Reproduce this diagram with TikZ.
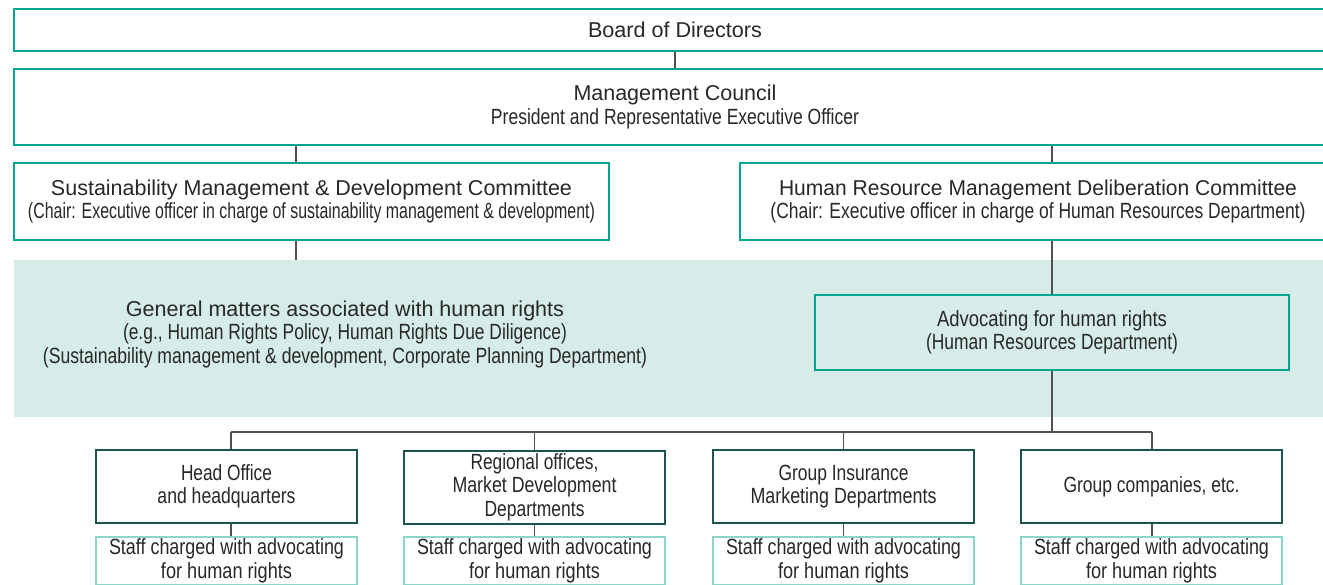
\documentclass[tikz,border=0pt]{standalone}
\usepackage{fontspec}
\setmainfont{Liberation Sans}
\usepackage{graphicx}
\definecolor{tealline}{RGB}{0,166,143}
\definecolor{bandfill}{RGB}{214,236,232}
\definecolor{darkteal}{RGB}{28,84,78}
\definecolor{lightteal}{RGB}{140,214,200}
\definecolor{ink}{RGB}{40,40,40}
\definecolor{connline}{RGB}{80,80,80}
% set a line of text to a given width, keeping its height
\newcommand\fw[2]{\resizebox{#1pt}{\height}{#2}}
\newcommand\titlesz{\fontsize{21.5}{24}\selectfont}
\newcommand\condsz{\fontsize{22}{23.5}\selectfont}
\tikzset{
  textstyle/.style={align=center, text=ink, inner sep=0pt, font=\condsz},
  tealbox/.style={textstyle, draw=tealline, line width=2.4pt, fill=white},
  unitbox/.style={textstyle, draw=darkteal, line width=2pt, fill=white,
    minimum width=261pt, minimum height=73pt},
  staffbox/.style={textstyle, draw=lightteal, line width=2pt, fill=white,
    minimum width=261pt, minimum height=48pt},
  conn/.style={draw=connline, line width=1.4pt},
}
\begin{document}
\begin{tikzpicture}[x=1pt,y=-1pt]
\useasboundingbox (0,0) rectangle (1323,585);

% shaded band for the working level
\node[fill=bandfill, inner sep=0pt, minimum width=1322pt, minimum height=157pt] (band) at (675,338.5) {};

% governance boxes
\node[tealbox, minimum width=1322pt, minimum height=42pt] (bod) at (675,30)
  {\titlesz\fw{174}{Board of Directors}};
\node[tealbox, minimum width=1322pt, minimum height=76pt] (mc) at (675,107)
  {\titlesz\fw{203}{Management Council}\\
   \fw{368}{President and Representative Executive Officer}};
\node[tealbox, minimum width=595pt, minimum height=77pt] (sust) at (311.5,201.5)
  {\titlesz\fw{521}{Sustainability Management \& Development Committee}\\
   \fw{567}{(Chair: Executive officer in charge of sustainability management \& development)}};
\node[tealbox, minimum width=596pt, minimum height=77pt] (hr) at (1038,201.5)
  {\titlesz\fw{518}{Human Resource Management Deliberation Committee}\\
   \fw{535}{(Chair: Executive officer in charge of Human Resources Department)}};

% contents of the band
\node[textstyle] (gm) at (345,334)
  {\titlesz\fw{438}{General matters associated with human rights}\\
   \fw{444}{(e.g., Human Rights Policy, Human Rights Due Diligence)}\\
   \fw{604}{(Sustainability management \& development, Corporate Planning Department)}};
\node[tealbox, fill=bandfill, minimum width=474pt, minimum height=75pt] (adv) at (1052,332.5)
  {\fw{230}{Advocating for human rights}\\
   \fw{252}{(Human Resources Department)}};

% organisational units
\node[unitbox] (u1) at (226.5,486.5)
  {\fw{91}{Head Office}\\\fw{138}{and headquarters}};
\node[unitbox] (u2) at (534.5,487)
  {\fw{128}{Regional offices,}\\\fw{164}{Market Development}\\\fw{100}{Departments}};
\node[unitbox] (u3) at (843.5,486.5)
  {\fw{130}{Group Insurance}\\\fw{186}{Marketing Departments}};
\node[unitbox] (u4) at (1151.5,486.5)
  {\fw{176}{Group companies, etc.}};

% staff under each unit
\node[staffbox] (s1) at (226.5,561)
  {\fw{235}{Staff charged with advocating}\\\fw{131}{for human rights}};
\node[staffbox] (s2) at (534.5,561)
  {\fw{235}{Staff charged with advocating}\\\fw{131}{for human rights}};
\node[staffbox] (s3) at (843.5,561)
  {\fw{235}{Staff charged with advocating}\\\fw{131}{for human rights}};
\node[staffbox] (s4) at (1151.5,561)
  {\fw{235}{Staff charged with advocating}\\\fw{131}{for human rights}};

% connectors
\coordinate (lx) at (296,0);
\coordinate (d1) at (231,0);
\coordinate (busL) at (231,432);
\coordinate (busR) at (1152,432);
\draw[conn] (bod.south) -- (mc.north);
\draw[conn] (mc.south -| lx) -- (sust.north -| lx);
\draw[conn] (sust.south -| lx) -- (band.north -| lx);
\draw[conn] (mc.south -| adv) -- (hr.north -| adv);
\draw[conn] (hr.south -| adv) -- (adv.north);
\draw[conn] (adv.south) -- (adv.south |- busL);
\draw[conn] (busL) -- (busR);
\draw[conn] (busL) -- (d1 |- u1.north);
\draw[conn] (u2.north |- busL) -- (u2.north);
\draw[conn] (u3.north |- busL) -- (u3.north);
\draw[conn] (busR) -- (busR |- u4.north);
\draw[conn] (d1 |- u1.south) -- (d1 |- s1.north);
\draw[conn] (u2.south) -- (s2.north);
\draw[conn] (u3.south) -- (s3.north);
\draw[conn] (busR |- u4.south) -- (busR |- s4.north);
\end{tikzpicture}
\end{document}
